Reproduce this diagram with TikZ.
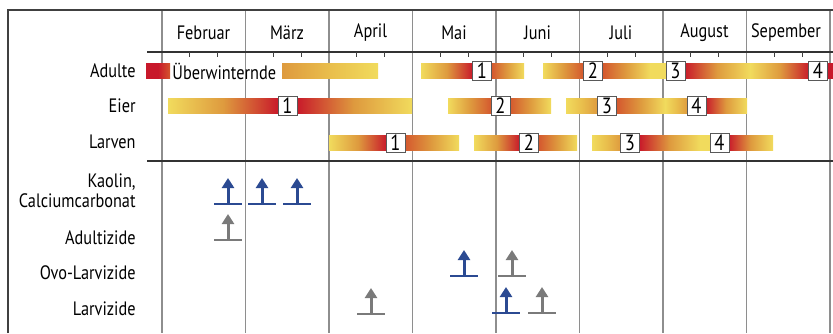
\documentclass[tikz,border=0pt]{standalone}
\usepackage{fontspec}
\setmainfont[FakeStretch=0.84]{PT Sans}
\usetikzlibrary{arrows.meta}
\definecolor{barY}{HTML}{F1DB5D}
\definecolor{barYO}{HTML}{E9BE4C}
\definecolor{barO}{HTML}{DE9A3E}
\definecolor{barRO}{HTML}{D4562E}
\definecolor{barR}{HTML}{C8182A}
\definecolor{sprayblue}{HTML}{2B4A92}
\definecolor{spraygray}{HTML}{7A7A7A}
\definecolor{gridgray}{HTML}{8E8E8E}

\begin{document}
\begin{tikzpicture}[x=0.5pt, y=-0.5pt,
    grid/.style={draw=gridgray, line width=0.55pt},
    rule/.style={draw=black!80, line width=0.65pt},
    gen/.style={draw=black!65, fill=white, line width=0.5pt, minimum size=9.5pt, inner sep=0pt, font=\fontsize{11}{12}\selectfont},
    rowlabel/.style={anchor=east, align=right, inner sep=0pt, font=\fontsize{9.7}{10}\selectfont},
    month/.style={font=\fontsize{9.7}{10}\selectfont},
    pics/spray/.style={code={
        \draw[#1, line width=1.3pt] (-14,0) -- (14,0);
        \draw[#1, line width=1.5pt, -{Triangle[length=5pt,width=6pt]}] (0,0) -- (0,-26);
    }}]
    \useasboundingbox (0,0) rectangle (833,333);
    % frame and month grid
    \foreach \x in {162,245.5,329,412.5,496,579.5,663,746.5,830}
        \draw[grid] (\x,10) -- (\x,333);
    \draw[draw=black!75, line width=0.7pt] (8,333) -- (8,10) -- (833,10);
    \draw[rule] (147,52) -- (833,52);
    \draw[rule] (147,161) -- (833,161);
    \foreach \k in {0,...,7}
        \foreach \t in {27.83,55.67}
            \draw[draw=black!75, line width=0.5pt] (162+83.5*\k+\t,52) -- (162+83.5*\k+\t,57);
    % months
    \foreach \x/\m in {203.5/Februar, 287/März, 370.5/April, 454/Mai, 537.5/Juni, 621/Juli, 704.5/August, 786/Sepember}
        \node[month] (m\m) at (\x,33) {\m};
    % row labels
    \node[rowlabel] (adulte) at (136,71) {Adulte};
    \node[rowlabel] (eier) at (136,106) {Eier};
    \node[rowlabel] (larven) at (136,142) {Larven};
    \node[rowlabel] (kaolin) at (136,191) {Kaolin,\\Calciumcarbonat};
    \node[rowlabel] (adultizide) at (136,238) {Adultizide};
    \node[rowlabel] (ovo) at (136,273) {Ovo-Larvizide};
    \node[rowlabel] (larvizide) at (136,309) {Larvizide};
    % bars
    \foreach \xa/\xb/\ya/\ca/\cm/\cb in {
        146/170/63/barR/barR/barRO, 282/378/63/barO/barYO/barY,
        421/473/63/barY/barO/barR, 491/524/63/barRO/barO/barY,
        543/584/63/barY/barO/barRO, 602/650/63/barRO/barO/barY,
        650/667/63/barY/barY/barY, 684/750/63/barR/barO/barY,
        750/810/63/barY/barO/barR, 826/833/63/barR/barR/barR,
        168/279/98/barY/barO/barR, 296/412/98/barR/barO/barY,
        448/492/98/barY/barO/barRO, 509/551/98/barRO/barO/barY,
        566/598/98/barY/barYO/barO, 616/665/98/barRO/barO/barY,
        665/688/98/barY/barYO/barO, 705/747/98/barR/barO/barY,
        329/387/135/barY/barO/barR, 404/459/135/barRO/barO/barY,
        474/520/135/barY/barO/barR, 538/577/135/barRO/barO/barY,
        592/621/135/barY/barYO/barO, 639/700/135/barR/barO/barY,
        700/711/135/barY/barY/barY, 728/773/135/barR/barO/barY}
        \shade[left color=\ca, right color=\cb, middle color=\cm] (\xa,\ya) rectangle (\xb,\ya+15);
    \node[rowlabel, anchor=west] (winter) at (172,71) {Überwinternde};
    % generations
    \foreach \r/\x/\y/\n in {a/482/70.5/1, a/593/70.5/2, a/675.5/70.5/3, a/818/70.5/4,
        e/287.5/105.5/1, e/500.5/105.5/2, e/607/105.5/3, e/696.5/105.5/4,
        l/395.5/142.5/1, l/529/142.5/2, l/630/142.5/3, l/719.5/142.5/4}
        \node[gen] (\r\n) at (\x,\y) {\n};
    % treatments
    \foreach \x/\y in {228/204, 262/204, 297/204, 464/276, 506/313}
        \pic at (\x,\y) {spray=sprayblue};
    \foreach \x/\y in {228/240, 512/276, 371/314, 542/313}
        \pic at (\x,\y) {spray=spraygray};
\end{tikzpicture}
\end{document}
